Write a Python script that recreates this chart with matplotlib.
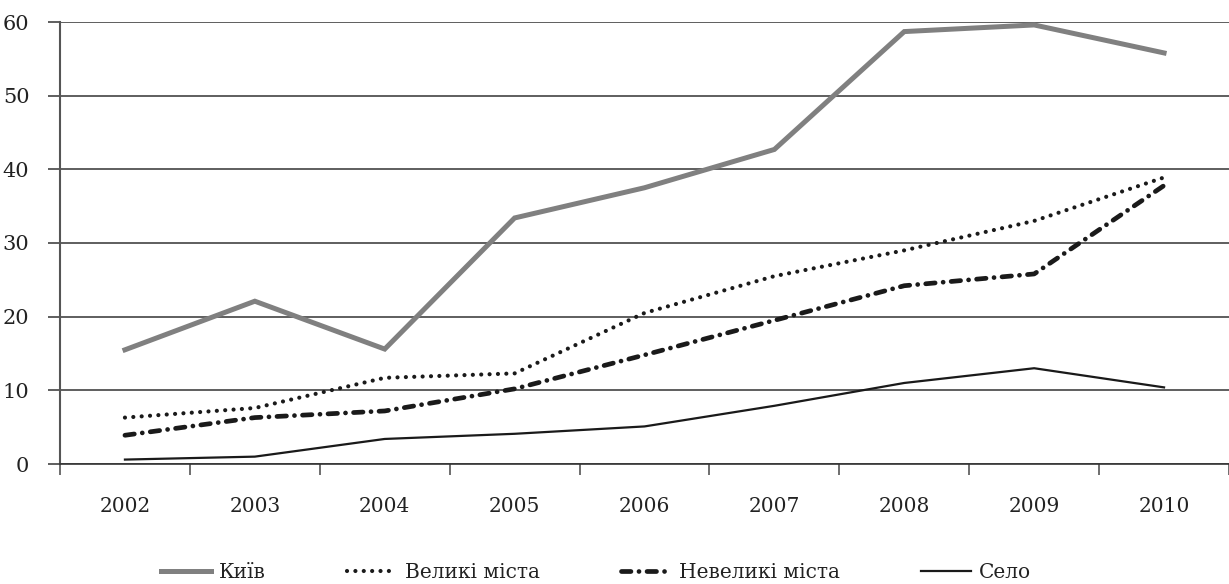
import matplotlib.pyplot as plt
import numpy as np

plt.rcParams["font.family"] = "serif"
plt.rcParams["font.serif"] = ["DejaVu Serif", "Liberation Serif"]

years = ["2002", "2003", "2004", "2005", "2006", "2007", "2008", "2009", "2010"]
kyiv = [15.5, 22.1, 15.6, 33.4, 37.5, 42.7, 58.7, 59.6, 55.8]
big_cities = [6.3, 7.6, 11.7, 12.3, 20.5, 25.5, 29.0, 33.0, 38.9]
small_cities = [3.9, 6.3, 7.2, 10.2, 14.8, 19.5, 24.2, 25.8, 37.8]
village = [0.6, 1.0, 3.4, 4.1, 5.1, 7.9, 11.0, 13.0, 10.4]

labels = ["Київ", "Великі міста", "Невеликі міста", "Село"]

fig = plt.figure(figsize=(12.29, 5.84), dpi=100)
ax = fig.add_axes([60 / 1229, 1 - 464 / 584, 1 - 60 / 1229, (464 - 22) / 584])

x = np.arange(len(years))

ax.plot(x, kyiv, color="#808080", lw=3.6, solid_joinstyle="miter", label=labels[0])
ax.plot(x, big_cities, color="#1a1a1a", lw=3.0, linestyle=(0, (0.01, 2.0)),
        dash_capstyle="round", label=labels[1])
ax.plot(x, small_cities, color="#1a1a1a", lw=3.4, linestyle=(0, (2.0, 1.7, 0.01, 1.7)),
        dash_capstyle="round", label=labels[2])
ax.plot(x, village, color="#1a1a1a", lw=1.6, label=labels[3])

ax.set_xlim(-0.5, len(years) - 0.5)
ax.set_ylim(0, 60)
ax.set_yticks(range(0, 61, 10))
ax.yaxis.grid(True, color="#333333", lw=1.1)
ax.set_axisbelow(True)

ax.set_xticks(x)
ax.set_xticklabels(years)
ax.set_xticks(np.arange(-0.5, len(years), 1.0), minor=True)
ax.tick_params(axis="x", which="major", length=0, pad=24, labelsize=14.5, colors="#222222")
ax.tick_params(axis="x", which="minor", length=8, width=1.2, color="#555555")
ax.tick_params(axis="y", length=9, width=1.1, color="#333333", labelsize=15,
               labelcolor="#222222", pad=13)

for s in ["top", "right"]:
    ax.spines[s].set_visible(False)
ax.spines["left"].set_color("#555555")
ax.spines["left"].set_linewidth(1.5)
ax.spines["bottom"].set_color("#333333")
ax.spines["bottom"].set_linewidth(1.2)

fig.legend(loc="center", bbox_to_anchor=(0.485, 1 - 573 / 584), ncol=4, frameon=False,
           fontsize=14.5, handlelength=2.5, handletextpad=0.4, columnspacing=4.0,
           labelcolor="#222222")

plt.savefig("out.png", dpi=100)
